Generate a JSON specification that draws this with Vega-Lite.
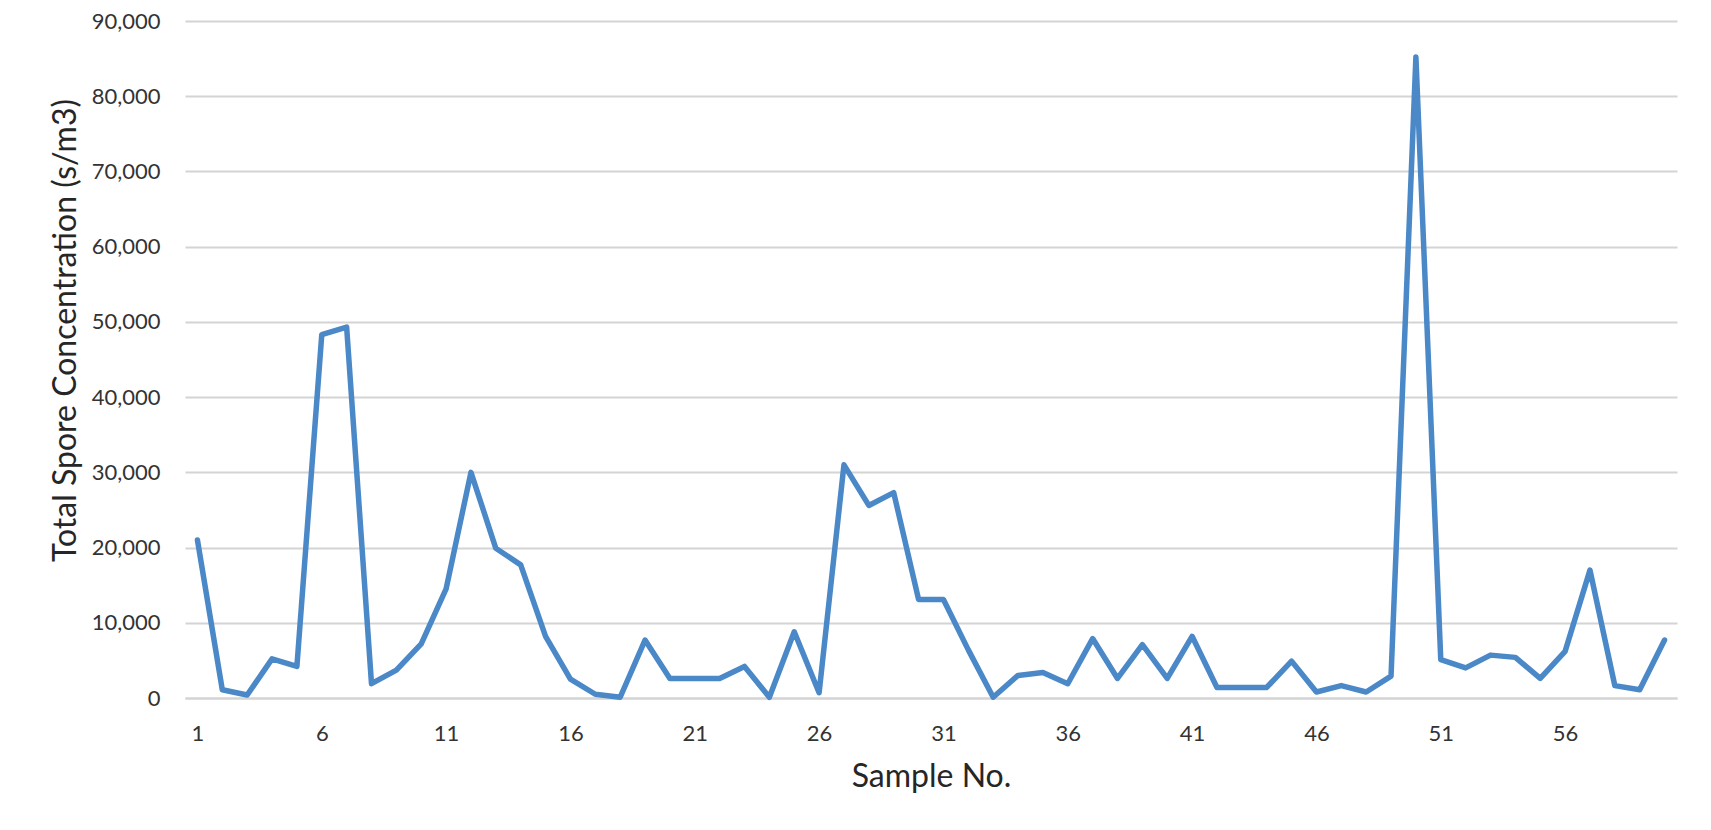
{
  "$schema": "https://vega.github.io/schema/vega-lite/v6.json",
  "width": 1492,
  "height": 677,
  "autosize": {"type": "none"},
  "padding": {"left": 185, "top": 21, "right": 34, "bottom": 132},
  "background": "white",
  "config": {
    "view": {"stroke": null},
    "font": "Lato"
  },
  "data": {
    "values": [
      {"sample": 1, "conc": 21000},
      {"sample": 2, "conc": 1100},
      {"sample": 3, "conc": 400},
      {"sample": 4, "conc": 5200},
      {"sample": 5, "conc": 4200},
      {"sample": 6, "conc": 48300},
      {"sample": 7, "conc": 49300},
      {"sample": 8, "conc": 1900},
      {"sample": 9, "conc": 3700},
      {"sample": 10, "conc": 7200},
      {"sample": 11, "conc": 14500},
      {"sample": 12, "conc": 30000},
      {"sample": 13, "conc": 19900},
      {"sample": 14, "conc": 17700},
      {"sample": 15, "conc": 8200},
      {"sample": 16, "conc": 2500},
      {"sample": 17, "conc": 500},
      {"sample": 18, "conc": 100},
      {"sample": 19, "conc": 7700},
      {"sample": 20, "conc": 2600},
      {"sample": 21, "conc": 2600},
      {"sample": 22, "conc": 2600},
      {"sample": 23, "conc": 4200},
      {"sample": 24, "conc": 100},
      {"sample": 25, "conc": 8800},
      {"sample": 26, "conc": 700},
      {"sample": 27, "conc": 31000},
      {"sample": 28, "conc": 25600},
      {"sample": 29, "conc": 27300},
      {"sample": 30, "conc": 13100},
      {"sample": 31, "conc": 13100},
      {"sample": 32, "conc": 6400},
      {"sample": 33, "conc": 100},
      {"sample": 34, "conc": 3000},
      {"sample": 35, "conc": 3400},
      {"sample": 36, "conc": 1900},
      {"sample": 37, "conc": 7900},
      {"sample": 38, "conc": 2600},
      {"sample": 39, "conc": 7100},
      {"sample": 40, "conc": 2600},
      {"sample": 41, "conc": 8200},
      {"sample": 42, "conc": 1400},
      {"sample": 43, "conc": 1400},
      {"sample": 44, "conc": 1400},
      {"sample": 45, "conc": 4900},
      {"sample": 46, "conc": 800},
      {"sample": 47, "conc": 1650},
      {"sample": 48, "conc": 800},
      {"sample": 49, "conc": 2900},
      {"sample": 50, "conc": 85200},
      {"sample": 51, "conc": 5100},
      {"sample": 52, "conc": 4000},
      {"sample": 53, "conc": 5700},
      {"sample": 54, "conc": 5400},
      {"sample": 55, "conc": 2600},
      {"sample": 56, "conc": 6200},
      {"sample": 57, "conc": 17000},
      {"sample": 58, "conc": 1650},
      {"sample": 59, "conc": 1100},
      {"sample": 60, "conc": 7700}
    ]
  },
  "mark": {"type": "line", "color": "#4a88c7", "strokeWidth": 5.5, "strokeJoin": "round", "strokeCap": "round"},
  "encoding": {
    "x": {
      "field": "sample",
      "type": "quantitative",
      "scale": {"domain": [0.5, 60.5], "nice": false, "zero": false},
      "axis": {
        "title": "Sample No.",
        "values": [1, 6, 11, 16, 21, 26, 31, 36, 41, 46, 51, 56],
        "grid": false,
        "ticks": false,
        "tickSize": 0,
        "domain": true,
        "domainColor": "#d4d4d4",
        "domainWidth": 2,
        "labelFont": "Lato",
        "labelFontSize": 22,
        "labelColor": "#333333",
        "labelBaseline": "alphabetic",
        "labelPadding": 42,
        "labelFlush": false,
        "titleFont": "Lato",
        "titleFontSize": 32,
        "titleFontWeight": "normal",
        "titleColor": "#262626",
        "titleBaseline": "alphabetic",
        "titleY": 88
      }
    },
    "y": {
      "field": "conc",
      "type": "quantitative",
      "scale": {"domain": [0, 90000], "nice": false},
      "axis": {
        "title": "Total Spore Concentration (s/m3)",
        "values": [0, 10000, 20000, 30000, 40000, 50000, 60000, 70000, 80000, 90000],
        "format": ",d",
        "grid": true,
        "gridColor": "#d4d4d4",
        "gridWidth": 2,
        "domain": false,
        "ticks": false,
        "tickSize": 0,
        "labelFont": "Lato",
        "labelFontSize": 22,
        "labelColor": "#333333",
        "labelPadding": 25,
        "labelBaseline": "middle",
        "titleFont": "Lato",
        "titleFontSize": 32,
        "titleFontWeight": "normal",
        "titleColor": "#262626",
        "titleAngle": -90,
        "titleAlign": "center",
        "titleBaseline": "alphabetic",
        "titleX": -110,
        "titleY": 309
      }
    }
  }
}
